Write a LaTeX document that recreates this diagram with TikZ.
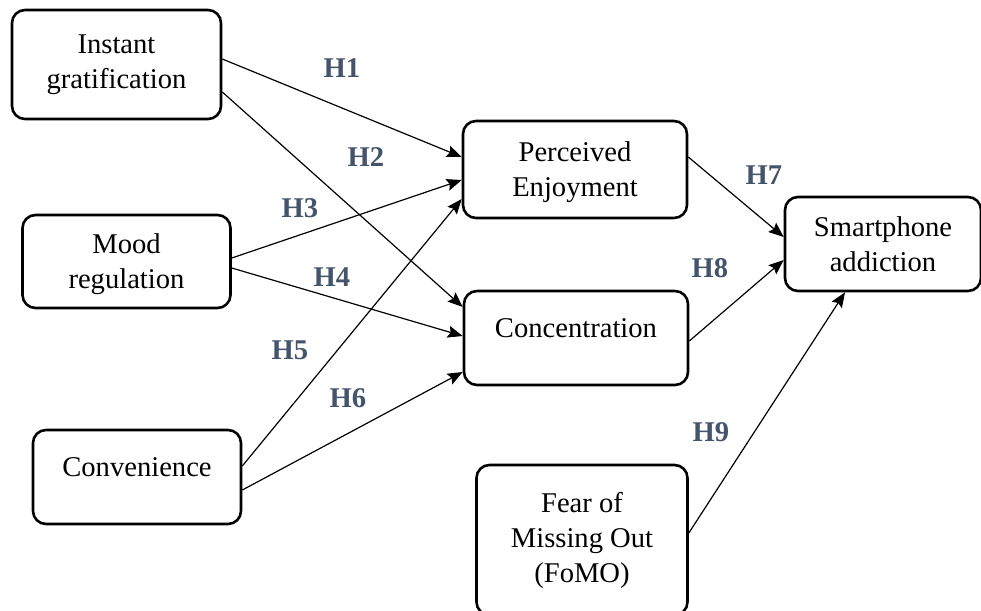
\documentclass[tikz,border=0pt]{standalone}
\usepackage{fontspec}
\setmainfont{Liberation Serif}
\usetikzlibrary{arrows.meta}
\definecolor{hypblue}{HTML}{44546A}
\begin{document}
\begin{tikzpicture}
	[ x=0.5pt, y=-0.5pt,
	  box/.style={draw,line width=1.3pt,rounded corners=6.5pt,align=center,
	    font=\fontsize{14.3}{17.5}\selectfont,inner sep=0pt},
	  link/.style={-{Stealth[length=7.5pt,width=6pt,inset=1.2pt]},line width=0.6pt},
	  hyp/.style={font=\fontsize{14.3}{17.5}\selectfont\bfseries,hypblue} ]
	\useasboundingbox (0,0) rectangle (981,611);
	
	\node[box,minimum width=104.5pt,minimum height=54.5pt] (inst) at (116.5,64.5) {Instant\\gratification};
	\node[box,minimum width=104pt,minimum height=46.5pt,text depth=-7pt] (mood) at (126.5,261.5) {Mood\\regulation};
	\node[box,minimum width=104pt,minimum height=47pt,text depth=10pt] (conv) at (137,477) {Convenience};
	\node[box,minimum width=112pt,minimum height=48.5pt,text depth=-7pt] (pe) at (575,169.5) {Perceived\\Enjoyment};
	\node[box,minimum width=112pt,minimum height=47pt,text depth=10pt] (conc) at (576,338) {Concentration};
	\node[box,minimum width=98pt,minimum height=47pt,text depth=-7pt] (sa) at (883,244) {Smartphone\\addiction};
	\node[box,minimum width=105.5pt,minimum height=75pt] (fomo) at (582,540) {Fear of\\Missing Out\\(FoMO)};
	
	\draw[link] ([yshift=2.75pt]inst.east) -- ([yshift=6.25pt]pe.west);
	\draw[link] ([yshift=-13.75pt]inst.east) -- ([yshift=15.5pt]conc.west);
	\draw[link] ([yshift=1.75pt]mood.east) -- ([yshift=-5.25pt]pe.west);
	\draw[link] ([yshift=-3.25pt]mood.east) -- ([yshift=1pt]conc.west);
	\draw[link] ([yshift=5.5pt]conv.east) -- ([yshift=-14.75pt]pe.west);
	\draw[link] ([yshift=-6.5pt]conv.east) -- ([yshift=-17pt]conc.west);
	\draw[link] ([yshift=6.25pt]pe.east) -- ([yshift=3.5pt]sa.west);
	\draw[link] ([yshift=-1.5pt]conc.east) -- ([yshift=-8pt]sa.west);
	\draw[link] ([yshift=3.5pt]fomo.east) -- ([xshift=-19pt]sa.south);
	
	\node[hyp] (h1) at (342,68) {H1};
	\node[hyp] (h2) at (366,157) {H2};
	\node[hyp] (h3) at (300,208) {H3};
	\node[hyp] (h4) at (332,277) {H4};
	\node[hyp] (h5) at (290,350) {H5};
	\node[hyp] (h6) at (348,398) {H6};
	\node[hyp] (h7) at (764,175) {H7};
	\node[hyp] (h8) at (710,268) {H8};
	\node[hyp] (h9) at (711,432) {H9};
	
\end{tikzpicture}
\end{document}
